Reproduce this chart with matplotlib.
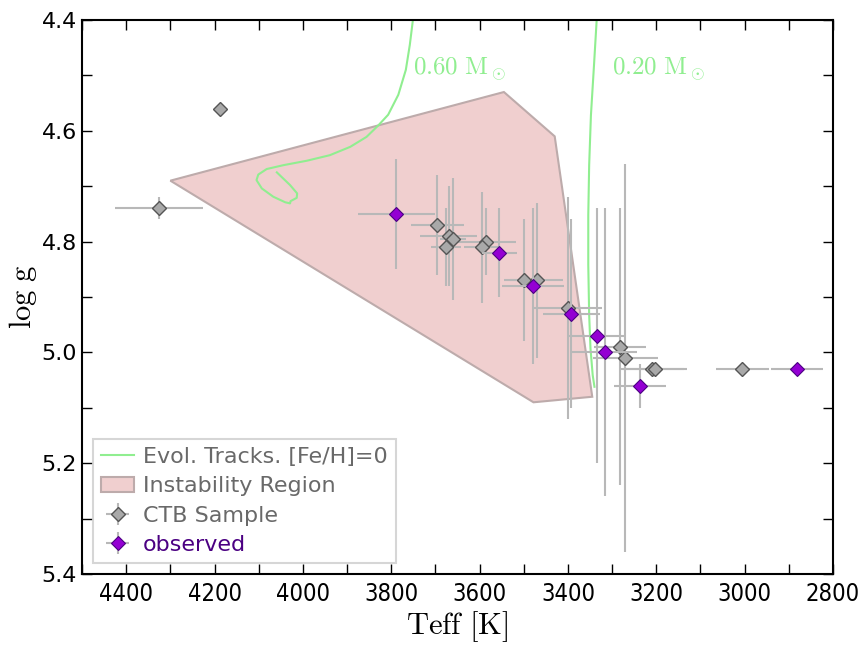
import matplotlib
matplotlib.use('Agg')
import matplotlib.pyplot as plt
from matplotlib import font_manager
from matplotlib.font_manager import FontProperties
from matplotlib.patches import Polygon

# CTB sample (grey diamonds)
ctb_teff = [4188, 4326, 3696, 3670, 3660, 3676, 3585, 3595, 3500, 3471, 3401, 3282, 3270, 3209, 3203, 3005]
ctb_logg = [4.56, 4.74, 4.77, 4.79, 4.795, 4.81, 4.80, 4.81, 4.87, 4.87, 4.92, 4.99, 5.01, 5.03, 5.03, 5.03]
ctb_teff_err = [0, 100, 60, 65, 30, 35, 68, 40, 45, 60, 78, 59, 74, 72, 72, 60]
ctb_logg_err = [0, 0.02, 0.09, 0.09, 0.11, 0.07, 0.06, 0.10, 0.11, 0.14, 0.20, 0.25, 0.35, 0, 0, 0]

# observed stars (purple diamonds)
obs_teff = [3789, 3555, 3480, 3392, 3334, 3317, 3237, 2882]
obs_logg = [4.75, 4.82, 4.88, 4.93, 4.97, 5.00, 5.06, 5.03]
obs_teff_err = [87, 40, 70, 64, 64, 73, 59, 59]
obs_logg_err = [0.10, 0.08, 0.14, 0.17, 0.23, 0.26, 0.04, 0]

# evolutionary tracks
track060_teff = [3751, 3758, 3767, 3784, 3807, 3829, 3856, 3893, 3939, 3991, 4044, 4082,
                 4101, 4105, 4093, 4067, 4040, 4029, 4028, 4014, 4013, 4029, 4059]
track060_logg = [4.400, 4.445, 4.490, 4.535, 4.571, 4.590, 4.611, 4.629, 4.644, 4.654, 4.662, 4.669,
                 4.679, 4.689, 4.704, 4.719, 4.729, 4.731, 4.727, 4.721, 4.713, 4.698, 4.675]
track020_teff = [3335, 3341, 3348, 3352, 3354, 3354, 3352, 3349, 3344, 3340]
track020_logg = [4.400, 4.481, 4.572, 4.662, 4.752, 4.842, 4.932, 4.993, 5.041, 5.062]

# instability region
inst_teff = [4300, 3545, 3430, 3345, 3478]
inst_logg = [4.69, 4.53, 4.61, 5.08, 5.09]

plt.rcParams['mathtext.fontset'] = 'cm'

# narrow face for the x tick labels, if one is installed
xtick_font = FontProperties(family='DejaVu Sans', size=16)
for fam, stretch in [('Liberation Sans Narrow', 'normal'), ('DejaVu Sans', 'condensed'),
                     ('Liberation Sans', 'condensed')]:
    fp = FontProperties(family=fam, stretch=stretch, size=16)
    try:
        path = font_manager.findfont(fp, fallback_to_default=False)
    except Exception:
        continue
    if 'Narrow' in path or 'Condensed' in path:
        xtick_font = FontProperties(fname=path, size=17)
        break

fig = plt.figure(figsize=(8.67, 6.45), dpi=100)
ax = fig.add_axes([0.0946, 0.110, 0.8662, 0.859])

poly = Polygon(list(zip(inst_teff, inst_logg)), closed=True,
               facecolor=(0.94, 0.81, 0.81), edgecolor=(0.74, 0.67, 0.67),
               linewidth=1.5, zorder=1, label='Instability Region')
ax.add_patch(poly)

ax.plot(track060_teff, track060_logg, color='lightgreen', lw=1.5, zorder=2,
        label='Evol. Tracks. [Fe/H]=0')
ax.plot(track020_teff, track020_logg, color='lightgreen', lw=1.5, zorder=2)

ax.text(3750, 4.50, r'$0.60\ \mathrm{M}_\odot$', color='lightgreen', fontsize=18)
ax.text(3300, 4.50, r'$0.20\ \mathrm{M}_\odot$', color='lightgreen', fontsize=18)

ax.errorbar(ctb_teff, ctb_logg, xerr=ctb_teff_err, yerr=ctb_logg_err, fmt='D',
            color='darkgray', mfc='darkgray', mec='#555555', mew=1, ms=7.5,
            ecolor='0.72', elinewidth=1.5, capsize=0, zorder=3, label='CTB Sample')
ax.errorbar(obs_teff, obs_logg, xerr=obs_teff_err, yerr=obs_logg_err, fmt='D',
            color='darkviolet', mfc='darkviolet', mec='indigo', mew=0.8, ms=7.5,
            ecolor='0.72', elinewidth=1.5, capsize=0, zorder=4, label='observed')

ax.set_xlim(4500, 2800)
ax.set_ylim(5.4, 4.4)
ax.set_xticks(range(4400, 2799, -200))
ax.set_xticks(range(4500, 2799, -100), minor=True)
ax.set_yticks([4.4, 4.6, 4.8, 5.0, 5.2, 5.4])
ax.set_yticks([4.5, 4.7, 4.9, 5.1, 5.3], minor=True)
ax.tick_params(which='both', direction='in', top=True, right=True,
               length=7, width=1)
ax.tick_params(axis='x', pad=6)
for lab in ax.get_xticklabels():
    lab.set_fontproperties(xtick_font)
for lab in ax.get_yticklabels():
    lab.set_fontsize(16)
for sp in ax.spines.values():
    sp.set_linewidth(1.5)

ax.set_xlabel(r'$\mathrm{Teff\ [K]}$', fontsize=22, labelpad=2)
ax.set_ylabel(r'$\mathrm{log\ g}$', fontsize=22, labelpad=2)

handles, labels = ax.get_legend_handles_labels()
order = [labels.index(l) for l in ['Evol. Tracks. [Fe/H]=0', 'Instability Region', 'CTB Sample', 'observed']]
leg = ax.legend([handles[i] for i in order], [labels[i] for i in order],
                loc='lower left', fontsize=16, fancybox=False, handlelength=1.5,
                handletextpad=0.4, borderpad=0.35, labelspacing=0.42)
leg.get_frame().set_edgecolor('0.8')
leg.get_frame().set_linewidth(1.5)
for t, c in zip(leg.get_texts(), ['dimgray', 'dimgray', 'dimgray', 'indigo']):
    t.set_color(c)

fig.savefig('out.png', dpi=100)
